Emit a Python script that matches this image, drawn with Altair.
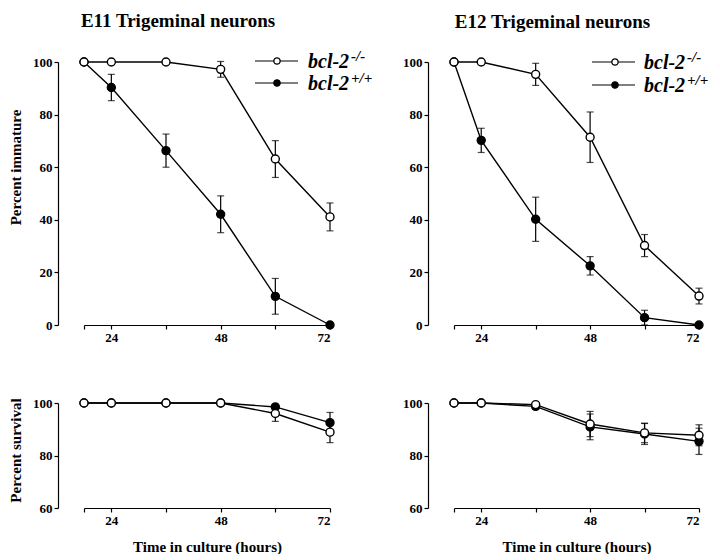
import altair as alt
import pandas as pd

hours = [18, 24, 36, 48, 60, 72]

# E11 percent immature
e11_imm_ko = [100, 100, 100, 97.2, 63.1, 41.1]
e11_imm_ko_err = [0, 0, 0, 3.0, 7.0, 5.3]
e11_imm_wt = [100, 90.3, 66.3, 42.1, 10.9, 0]
e11_imm_wt_err = [0, 5.0, 6.3, 7.0, 6.8, 0]

# E12 percent immature
e12_imm_ko = [100, 100, 95.3, 71.4, 30.2, 11.0]
e12_imm_ko_err = [0, 0, 4.2, 9.6, 4.2, 3.0]
e12_imm_wt = [100, 70.2, 40.2, 22.5, 2.8, 0]
e12_imm_wt_err = [0, 4.6, 8.4, 3.5, 2.8, 0]

# E11 percent survival
e11_surv_ko = [100, 100, 100, 100, 96.0, 88.9]
e11_surv_ko_err = [0, 0, 0, 0, 3.0, 4.0]
e11_surv_wt = [100, 100, 100, 100, 98.5, 92.5]
e11_surv_wt_err = [0, 0, 0, 0, 0.8, 3.9]

# E12 percent survival
e12_surv_ko = [100, 100, 99.4, 92.0, 88.6, 87.7]
e12_surv_ko_err = [0, 0, 0.5, 4.8, 3.7, 4.0]
e12_surv_wt = [100, 100, 98.7, 90.9, 88.2, 85.4]
e12_surv_wt_err = [0, 0, 1.0, 4.9, 4.0, 5.0]

x_ticks = [18, 24, 36, 48, 60, 72]
imm_ticks = [0, 10, 20, 30, 40, 50, 60, 70, 80, 90, 100]
surv_ticks = [60, 70, 80, 90, 100]

legend_main = "bcl-2"
legend_sup = ["-/-", "+/+"]

FONT = "Liberation Serif"


def make_df(ko, ko_err, wt, wt_err):
    rows = []
    for g, vals, errs in (("wt", wt, wt_err), ("ko", ko, ko_err)):
        for h, v, e in zip(hours, vals, errs):
            rows.append({"hour": h, "value": v, "err": e, "geno": g,
                         "lo": v - e, "hi": v + e})
    return pd.DataFrame(rows)


def panel(ko, ko_err, wt, wt_err, ydom, yticks, ytitle, xtitle, title,
          title_dx, w, h, ytitle_y, legend=None):
    df = make_df(ko, ko_err, wt, wt_err)
    xaxis_kw = dict(values=x_ticks,
                    labelExpr="datum.value % 24 == 0 ? datum.value : ''",
                    titlePadding=12)
    xaxis_kw["title"] = xtitle if xtitle else None
    yaxis_kw = dict(values=yticks,
                    labelExpr="datum.value % 20 == 0 ? datum.value : ''",
                    offset=26, titlePadding=9)
    if ytitle:
        yaxis_kw["title"] = ytitle
        yaxis_kw["titleY"] = ytitle_y
    else:
        yaxis_kw["title"] = None
    x = alt.X("hour:Q", scale=alt.Scale(domain=[18, 72], nice=False, zero=False),
              axis=alt.Axis(**xaxis_kw))
    y = alt.Y("value:Q", scale=alt.Scale(domain=ydom, nice=False, zero=False),
              axis=alt.Axis(**yaxis_kw))
    base = alt.Chart(df)
    lines = base.mark_line(color="black", strokeWidth=1.4).encode(
        x=x, y=y, detail="geno:N")
    ebdf = base.transform_filter("datum.err > 0")
    rules = ebdf.mark_rule(color="black", strokeWidth=1.2).encode(
        x="hour:Q", y="lo:Q", y2="hi:Q")
    cap_lo = ebdf.mark_tick(color="black", orient="horizontal", size=7,
                            thickness=1.2).encode(x="hour:Q", y="lo:Q")
    cap_hi = ebdf.mark_tick(color="black", orient="horizontal", size=7,
                            thickness=1.2).encode(x="hour:Q", y="hi:Q")
    pts = base.mark_point(filled=True, size=64, stroke="black",
                          strokeWidth=1.4, opacity=1).encode(
        x="hour:Q", y="value:Q",
        fill=alt.Fill("geno:N", scale=alt.Scale(domain=["ko", "wt"],
                                                range=["white", "black"]),
                      legend=None),
        order=alt.Order("geno:N", sort="descending"))
    layers = [lines, rules, cap_lo, cap_hi, pts]
    if legend:
        lx1, lx2, mx, tx, ry = legend
        for i, (sup, fillc) in enumerate(zip(legend_sup, ["white", "black"])):
            yy = ry[i]
            one = alt.Chart(pd.DataFrame({"a": [0]}))
            layers.append(one.mark_rule(color="black", strokeWidth=1.2).encode(
                x=alt.value(lx1), x2=alt.value(lx2), y=alt.value(yy)))
            layers.append(one.mark_point(filled=True, size=40, stroke="black",
                                         strokeWidth=1.3, fill=fillc,
                                         opacity=1).encode(
                x=alt.value(mx), y=alt.value(yy)))
            layers.append(one.mark_text(text=legend_main, font=FONT,
                                        fontSize=20, fontWeight="bold",
                                        fontStyle="italic", align="left",
                                        baseline="middle", color="black").encode(
                x=alt.value(tx), y=alt.value(yy + 1)))
            layers.append(one.mark_text(text=sup, font=FONT,
                                        fontSize=15, fontWeight="bold",
                                        fontStyle="italic", align="left",
                                        baseline="middle", color="black").encode(
                x=alt.value(tx + 43), y=alt.value(yy - 5)))
    ch = alt.layer(*layers).properties(width=w, height=h)
    if title:
        ch = ch.properties(title=alt.TitleParams(
            title, font=FONT, fontSize=19, fontWeight="bold", color="black",
            dx=title_dx, offset=18, anchor="middle", frame="group"))
    return ch


tl = panel(e11_imm_ko, e11_imm_ko_err, e11_imm_wt, e11_imm_wt_err,
           [0, 100], imm_ticks, "Percent immature", None,
           "E11 Trigeminal neurons", -29, 246, 263, 105,
           legend=(171, 214, 193, 224, [-1, 21]))
tr = panel(e12_imm_ko, e12_imm_ko_err, e12_imm_wt, e12_imm_wt_err,
           [0, 100], imm_ticks, None, None,
           "E12 Trigeminal neurons", -24, 245, 263, 105,
           legend=(138, 181, 161, 190, [0, 23]))
bl = panel(e11_surv_ko, e11_surv_ko_err, e11_surv_wt, e11_surv_wt_err,
           [60, 100], surv_ticks, "Percent survival", "Time in culture (hours)",
           None, 0, 246, 105, 47)
br = panel(e12_surv_ko, e12_surv_ko_err, e12_surv_wt, e12_surv_wt_err,
           [60, 100], surv_ticks, None, "Time in culture (hours)",
           None, 0, 245, 105, 47)

chart = alt.concat(tl, tr, bl, br, columns=2, bounds="flush",
                   spacing=alt.RowColnumber(row=78, column=124)).configure(
    padding={"top": 4, "left": 0, "right": 0, "bottom": 0},
    background="white"
).configure_view(stroke=None).configure_axis(
    grid=False, domainColor="black", domainWidth=1.2, tickColor="black",
    tickWidth=1.2, tickSize=4, labelFont=FONT, labelFontSize=13,
    labelFontWeight="bold", labelColor="black", labelPadding=2,
    titleFont=FONT, titleFontSize=15, titleFontWeight="bold",
    titleColor="black"
)

chart.save("out.html", embed_options={"renderer": "svg", "actions": False})
